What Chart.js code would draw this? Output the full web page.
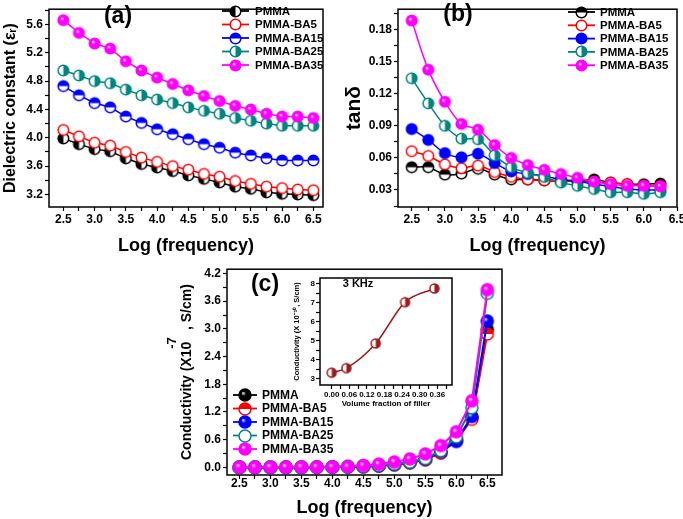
<!DOCTYPE html>
<html lang="en">
<head>
  <meta charset="UTF-8" />
  <title>PMMA-BA composites</title>
  <script src="https://cdn.jsdelivr.net/npm/chart.js"></script>
  <style>
    body { margin: 0; background: #fff; }
    #wrap { position: relative; width: 683px; height: 519px; overflow: hidden; }
    canvas { position: absolute; }
  </style>
</head>
<body>
<div id="wrap">
  <canvas id="chartA" width="340" height="260" style="left:0;top:0"></canvas>
  <canvas id="chartB" width="347" height="260" style="left:340px;top:0"></canvas>
  <canvas id="chartC" width="370" height="259" style="left:150px;top:260px"></canvas>
  <canvas id="chartInset" width="170" height="140" style="left:290px;top:272px"></canvas>
</div>

<script>
  // ---- data ----
  const seriesNames = ['PMMA', 'PMMA-BA5', 'PMMA-BA15', 'PMMA-BA25', 'PMMA-BA35'];
  const seriesColors = ['#000000', '#ff0000', '#0000ff', '#00857f', '#ff00ff'];

  // (a) dielectric constant
  const freqA = [2.5, 2.75, 3.0, 3.25, 3.5, 3.75, 4.0, 4.25, 4.5, 4.75, 5.0, 5.25, 5.5, 5.75, 6.0, 6.25, 6.5];
  const dielPMMA = [3.99, 3.91, 3.84, 3.81, 3.71, 3.63, 3.58, 3.53, 3.47, 3.42, 3.37, 3.31, 3.28, 3.23, 3.21, 3.20, 3.19];
  const dielBA5  = [4.11, 4.02, 3.93, 3.89, 3.80, 3.72, 3.66, 3.60, 3.55, 3.49, 3.45, 3.39, 3.35, 3.31, 3.29, 3.27, 3.26];
  const dielBA15 = [4.73, 4.60, 4.49, 4.43, 4.30, 4.21, 4.12, 4.05, 3.98, 3.91, 3.86, 3.79, 3.75, 3.71, 3.68, 3.68, 3.68];
  const dielBA25 = [4.95, 4.88, 4.80, 4.77, 4.68, 4.60, 4.54, 4.49, 4.43, 4.38, 4.34, 4.28, 4.24, 4.20, 4.17, 4.17, 4.17];
  const dielBA35 = [5.66, 5.48, 5.33, 5.26, 5.08, 4.95, 4.85, 4.76, 4.67, 4.59, 4.52, 4.45, 4.40, 4.34, 4.30, 4.30, 4.28];

  // (b) tan delta
  const freqB = [2.5, 2.75, 3.0, 3.25, 3.5, 3.75, 4.0, 4.25, 4.5, 4.75, 5.0, 5.25, 5.5, 5.75, 6.0, 6.25];
  const tanPMMA = [0.0513, 0.0513, 0.0444, 0.0453, 0.0498, 0.0444, 0.0399, 0.0399, 0.0390, 0.0384, 0.0384, 0.0399, 0.0369, 0.0354, 0.0354, 0.0360];
  const tanBA5  = [0.0663, 0.0618, 0.0540, 0.0504, 0.0528, 0.0468, 0.0423, 0.0399, 0.0390, 0.0384, 0.0384, 0.0375, 0.0369, 0.0354, 0.0339, 0.0339];
  const tanBA15 = [0.0870, 0.0768, 0.0645, 0.0606, 0.0639, 0.0552, 0.0474, 0.0450, 0.0429, 0.0399, 0.0384, 0.0354, 0.0333, 0.0309, 0.0300, 0.0300];
  const tanBA25 = [0.1344, 0.1110, 0.0900, 0.0780, 0.0774, 0.0624, 0.0513, 0.0459, 0.0423, 0.0369, 0.0339, 0.0309, 0.0279, 0.0279, 0.0264, 0.0279];
  const tanBA35 = [0.1884, 0.1425, 0.1125, 0.0918, 0.0864, 0.0720, 0.0600, 0.0534, 0.0489, 0.0450, 0.0414, 0.0378, 0.0354, 0.0339, 0.0339, 0.0333];

  // (c) conductivity (x1e-7 S/cm)
  const freqC = [2.5, 2.75, 3.0, 3.25, 3.5, 3.75, 4.0, 4.25, 4.5, 4.75, 5.0, 5.25, 5.5, 5.75, 6.0, 6.25, 6.5];
  const condPMMA = [0, 0, 0, 0, 0, 0.003, 0.005, 0.01, 0.015, 0.03, 0.06, 0.10, 0.17, 0.32, 0.60, 1.08, 2.99];
  const condBA5  = [0, 0, 0, 0, 0, 0.003, 0.005, 0.01, 0.015, 0.03, 0.055, 0.10, 0.16, 0.31, 0.58, 1.04, 2.89];
  const condBA15 = [0, 0, 0, 0, 0, 0.004, 0.006, 0.01, 0.02, 0.035, 0.065, 0.11, 0.18, 0.34, 0.56, 1.10, 3.17];
  const condBA25 = [0, 0, 0, 0, 0, 0.004, 0.006, 0.01, 0.02, 0.04, 0.07, 0.11, 0.19, 0.36, 0.66, 1.29, 3.77];
  const condBA35 = [0.005, 0.005, 0.005, 0.005, 0.006, 0.008, 0.01, 0.015, 0.04, 0.07, 0.115, 0.18, 0.29, 0.47, 0.77, 1.44, 3.85];

  // inset: conductivity at 3 kHz (x1e-10 S/cm)
  const volFrac = [0.0, 0.05, 0.15, 0.25, 0.35];
  const cond3k = [3.31, 3.55, 4.85, 7.02, 7.74];

  // tick values
  const ticksFreq = [2.5, 2.75, 3.0, 3.25, 3.5, 3.75, 4.0, 4.25, 4.5, 4.75, 5.0, 5.25, 5.5, 5.75, 6.0, 6.25, 6.5];
  const ticksDiel = [3.2, 3.4, 3.6, 3.8, 4.0, 4.2, 4.4, 4.6, 4.8, 5.0, 5.2, 5.4, 5.6, 5.8];
  const ticksTan = [0.015, 0.03, 0.045, 0.06, 0.075, 0.09, 0.105, 0.12, 0.135, 0.15, 0.165, 0.18, 0.195];
  const ticksCond = [0, 0.3, 0.6, 0.9, 1.2, 1.5, 1.8, 2.1, 2.4, 2.7, 3.0, 3.3, 3.6, 3.9, 4.2];
  const ticksVol = [0, 0.03, 0.06, 0.09, 0.12, 0.15, 0.18, 0.21, 0.24, 0.27, 0.30, 0.33, 0.36, 0.39];
  const ticksInsetY = [3, 3.5, 4, 4.5, 5, 5.5, 6, 6.5, 7, 7.5, 8];

  const FONT = '"Liberation Sans", Arial, sans-serif';
  Chart.defaults.font.family = FONT;
  Chart.defaults.font.weight = 'bold';
  Chart.defaults.color = '#000';

  // circle markers drawn into small canvases
  function makeMarker(color, kind, r) {
    const c = document.createElement('canvas');
    const s = Math.ceil(2 * r + 4);
    c.width = s; c.height = s;
    const g = c.getContext('2d');
    const m = s / 2;
    g.fillStyle = '#fff';
    g.beginPath(); g.arc(m, m, r, 0, Math.PI * 2); g.fill();
    if (kind === 'full') {
      g.fillStyle = color;
      g.beginPath(); g.arc(m, m, r, 0, Math.PI * 2); g.fill();
    } else if (kind === 'sphere') {
      const gr = g.createRadialGradient(m - r * 0.35, m - r * 0.35, 0, m, m, r);
      gr.addColorStop(0, '#ffffff');
      gr.addColorStop(0.4, color);
      gr.addColorStop(1, color);
      g.fillStyle = gr;
      g.beginPath(); g.arc(m, m, r, 0, Math.PI * 2); g.fill();
    } else if (kind !== 'open') {
      const start = { left: Math.PI / 2, right: -Math.PI / 2, top: Math.PI, bottom: 0 }[kind];
      g.fillStyle = color;
      g.beginPath(); g.arc(m, m, r, start, start + Math.PI); g.closePath(); g.fill();
    }
    g.strokeStyle = color;
    g.lineWidth = 1.5;
    g.beginPath(); g.arc(m, m, r, 0, Math.PI * 2); g.stroke();
    return c;
  }

  const framePlugin = {
    id: 'frame',
    beforeDatasetsDraw(chart) {
      const { ctx, chartArea: a } = chart;
      ctx.save();
      ctx.strokeStyle = '#000';
      ctx.lineWidth = 1.5;
      ctx.strokeRect(a.left, a.top, a.right - a.left, a.bottom - a.top);
      ctx.restore();
    }
  };

  const boxLegend = {
    id: 'boxLegend',
    afterDraw(chart, args, o) {
      if (!o || o.x === undefined) return;
      const ctx = chart.ctx;
      ctx.save();
      ctx.font = o.font;
      ctx.textBaseline = 'middle';
      chart.data.datasets.forEach((ds, i) => {
        const y = o.y + i * o.row;
        ctx.strokeStyle = ds.borderColor;
        ctx.lineWidth = 1.8;
        ctx.beginPath(); ctx.moveTo(o.x, y); ctx.lineTo(o.x + o.len, y); ctx.stroke();
        const img = ds.pointStyle;
        ctx.drawImage(img, Math.round(o.x + o.len / 2 - img.width / 2), Math.round(y - img.height / 2));
        ctx.fillStyle = '#000';
        ctx.fillText(ds.label, o.x + o.len + o.gap, y + 0.5);
      });
      ctx.restore();
    }
  };

  const notes = {
    id: 'notes',
    afterDraw(chart, args, o) {
      if (!o || !o.items) return;
      const ctx = chart.ctx;
      o.items.forEach(t => {
        ctx.save();
        ctx.font = t.font;
        ctx.fillStyle = '#000';
        ctx.textAlign = 'center';
        ctx.textBaseline = 'middle';
        ctx.translate(t.x, t.y);
        if (t.rotate) ctx.rotate(t.rotate);
        ctx.fillText(t.text, 0, 0);
        ctx.restore();
      });
    }
  };

  function isMajor(v, step) {
    const k = v / step;
    return Math.abs(k - Math.round(k)) < 1e-6;
  }

  function axis(o) {
    return {
      type: 'linear',
      position: o.position,
      min: o.min,
      max: o.max,
      afterFit: s => { if (o.position === 'bottom') s.height = o.size; else s.width = o.size; },
      afterBuildTicks: s => { s.ticks = o.ticks.map(v => ({ value: v })); },
      border: { display: false },
      grid: { drawOnChartArea: false, drawTicks: true, tickLength: 4, tickColor: '#000', tickWidth: 1.2 },
      ticks: {
        autoSkip: false, maxRotation: 0, padding: o.tickPad !== undefined ? o.tickPad : 2,
        color: '#000',
        font: { size: o.tickSize, weight: 'bold' },
        callback: v => isMajor(v, o.major) ? v.toFixed(o.digits) : ''
      },
      title: {
        display: true, text: o.title, color: '#000',
        font: { size: o.titleSize, weight: 'bold' },
        padding: o.titlePad
      }
    };
  }

  function makeSets(xs, ys, kinds, r, width, tension) {
    return ys.map((arr, i) => ({
      label: seriesNames[i],
      data: xs.map((x, j) => ({ x: x, y: arr[j] })),
      borderColor: seriesColors[i],
      backgroundColor: seriesColors[i],
      borderWidth: width,
      pointStyle: makeMarker(seriesColors[i], kinds[i], r),
      pointRadius: r,
      tension: tension,
      clip: false,
      order: ys.length - i
    }));
  }

  function baseOptions(pad, scales, legend, items) {
    return {
      responsive: false,
      animation: false,
      layout: { padding: pad },
      scales: scales,
      plugins: {
        legend: { display: false },
        tooltip: { enabled: false },
        boxLegend: legend,
        notes: { items: items }
      }
    };
  }

  // (a)
  new Chart(document.getElementById('chartA'), {
    type: 'line',
    data: { datasets: makeSets(freqA, [dielPMMA, dielBA5, dielBA15, dielBA25, dielBA35],
      ['left', 'open', 'top', 'right', 'sphere'], 5.3, 1.5, 0) },
    options: baseOptions({ top: 1, right: 17, left: 0, bottom: 0 }, {
      x: axis({ position: 'bottom', min: 2.27, max: 6.655, size: 53, ticks: ticksFreq, major: 0.5, digits: 1,
        tickSize: 12, tickPad: 1, title: 'Log (frequency)', titleSize: 18, titlePad: { top: 0, bottom: 3 } }),
      y: axis({ position: 'left', min: 3.023, max: 5.815, size: 49, ticks: ticksDiel, major: 0.4, digits: 1,
        tickSize: 12, title: 'Dielectric constant (\u03b5\u1d63)', titleSize: 16, titlePad: { top: 1, bottom: 0 } })
    }, { x: 222, y: 11, row: 13.5, len: 27, gap: 6, font: 'bold 11.5px ' + FONT },
    [{ text: '(a)', x: 118, y: 17, font: 'bold 23px ' + FONT }]),
    plugins: [framePlugin, boxLegend, notes]
  });

  // (b)
  new Chart(document.getElementById('chartB'), {
    type: 'line',
    data: { datasets: makeSets(freqB, [tanPMMA, tanBA5, tanBA15, tanBA25, tanBA35],
      ['top', 'open', 'full', 'right', 'sphere'], 5.3, 1.5, 0.35) },
    options: baseOptions({ top: 1, right: 10, left: 0, bottom: 0 }, {
      x: axis({ position: 'bottom', min: 2.293, max: 6.5, size: 53, ticks: ticksFreq, major: 0.5, digits: 1,
        tickSize: 12, tickPad: 1, title: 'Log (frequency)', titleSize: 18, titlePad: { top: 0, bottom: 3 } }),
      y: axis({ position: 'left', min: 0.0141, max: 0.199, size: 58, ticks: ticksTan, major: 0.03, digits: 2,
        tickSize: 12, title: 'tan\u03b4', titleSize: 21, titlePad: { top: 2, bottom: 0 } })
    }, { x: 228, y: 12, row: 13.3, len: 27, gap: 5, font: 'bold 11.5px ' + FONT },
    [{ text: '(b)', x: 118, y: 15, font: 'bold 23px ' + FONT }]),
    plugins: [framePlugin, boxLegend, notes]
  });

  // (c)
  new Chart(document.getElementById('chartC'), {
    type: 'line',
    data: { datasets: makeSets(freqC, [condPMMA, condBA5, condBA15, condBA25, condBA35],
      ['sphere', 'top', 'sphere', 'open', 'sphere'], 6, 2, 0) },
    options: baseOptions({ top: 9, right: 18, left: 0, bottom: 0 }, {
      x: axis({ position: 'bottom', min: 2.30, max: 6.737, size: 44, ticks: ticksFreq, major: 0.5, digits: 1,
        tickSize: 12, tickPad: -3, title: 'Log (frequency)', titleSize: 18, titlePad: { top: 0, bottom: 0 } }),
      y: axis({ position: 'left', min: -0.167, max: 4.293, size: 77, ticks: ticksCond, major: 0.6, digits: 1,
        tickSize: 12, title: 'Conductivity (X10   , S/cm)', titleSize: 14, titlePad: { top: 29, bottom: 0 } })
    }, { x: 83, y: 135, row: 13.5, len: 24, gap: 5, font: 'bold 12px ' + FONT },
    [{ text: '(c)', x: 115, y: 25, font: 'bold 23px ' + FONT },
     { text: '-7', x: 22, y: 83, rotate: -Math.PI / 2, font: 'bold 13px ' + FONT }]),
    plugins: [framePlugin, boxLegend, notes]
  });

  // inset
  new Chart(document.getElementById('chartInset'), {
    type: 'line',
    data: {
      datasets: [{
        label: '3 KHz',
        data: volFrac.map((x, j) => ({ x: x, y: cond3k[j] })),
        borderColor: '#9b1c1c',
        borderWidth: 1.5,
        pointStyle: makeMarker('#9b1c1c', 'right', 4.5),
        pointRadius: 4.5,
        cubicInterpolationMode: 'monotone',
        clip: false
      }]
    },
    options: baseOptions({ top: 3, right: 8, left: 0, bottom: 0 }, {
      x: axis({ position: 'bottom', min: -0.04, max: 0.41, size: 27, ticks: ticksVol, major: 0.06, digits: 2,
        tickSize: 8, tickPad: 1, title: 'Volume fraction of filler', titleSize: 8, titlePad: { top: 0, bottom: 3 } }),
      y: axis({ position: 'left', min: 2.66, max: 8.29, size: 30, ticks: ticksInsetY, major: 1, digits: 0,
        tickSize: 8, tickPad: 1, title: 'Conductivity (X 10\u207b\u00b9\u2070, S/cm)', titleSize: 7.5, titlePad: { top: 2, bottom: 0 } })
    }, {}, [{ text: '3 KHz', x: 68, y: 12, font: 'bold 11px ' + FONT }]),
    plugins: [framePlugin, boxLegend, notes]
  });
</script>
</body>
</html>
